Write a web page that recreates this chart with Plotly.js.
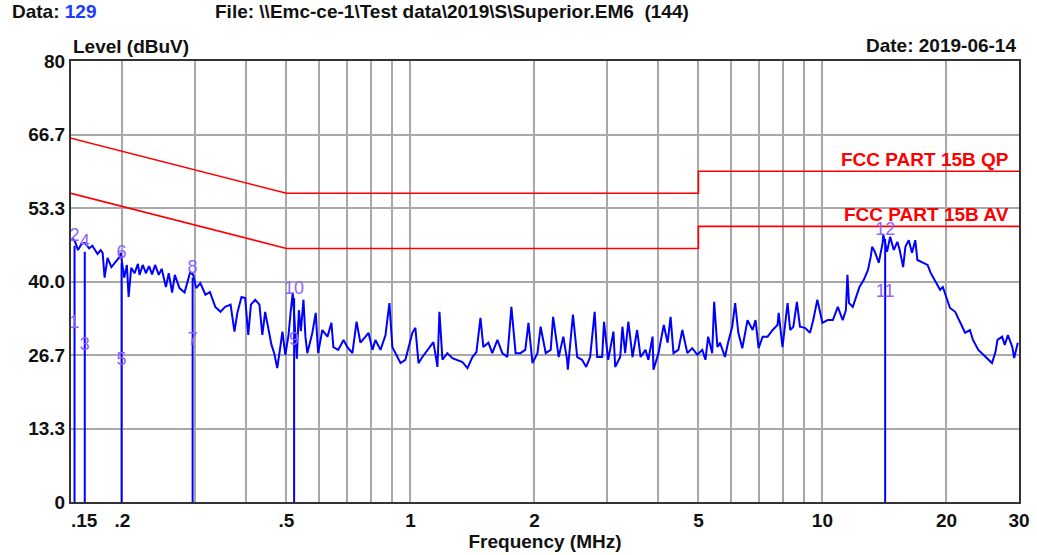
<!DOCTYPE html>
<html>
<head>
<meta charset="utf-8">
<script src="https://cdn.plot.ly/plotly-3.0.1.min.js"></script>
<style>
  html, body { margin: 0; padding: 0; background: #ffffff; }
  #chart { width: 1037px; height: 555px; }
</style>
</head>
<body>
<div id="chart"></div>
<script>
// Measured spectrum (MHz, dBuV)
var specFreq = [
  0.151, 0.1535, 0.156, 0.159, 0.162, 0.166, 0.169, 0.174, 0.177, 0.179,
  0.181, 0.184, 0.188, 0.192, 0.197, 0.198, 0.2, 0.202, 0.205, 0.207,
  0.21, 0.214, 0.218, 0.22, 0.224, 0.228, 0.232, 0.236, 0.24, 0.245,
  0.249, 0.255, 0.259, 0.264, 0.268, 0.275, 0.283, 0.292, 0.297, 0.302,
  0.309, 0.318, 0.326, 0.336, 0.346, 0.355, 0.366, 0.374, 0.38, 0.389,
  0.397, 0.404, 0.41, 0.42, 0.43, 0.437, 0.444, 0.451, 0.46, 0.467,
  0.475, 0.483, 0.489, 0.497, 0.506, 0.512, 0.518, 0.524, 0.53, 0.536,
  0.542, 0.55, 0.556, 0.562, 0.578, 0.589, 0.597, 0.611, 0.629, 0.643,
  0.65, 0.668, 0.688, 0.703, 0.723, 0.74, 0.756, 0.778, 0.791, 0.809,
  0.822, 0.846, 0.87, 0.889, 0.904, 0.93, 0.946, 0.972, 0.989, 1.011,
  1.028, 1.046, 1.069, 1.106, 1.137, 1.163, 1.176, 1.196, 1.229, 1.264,
  1.3, 1.337, 1.375, 1.414, 1.446, 1.479, 1.503, 1.546, 1.58, 1.626,
  1.671, 1.719, 1.758, 1.8, 1.849, 1.9, 1.934, 1.978, 2.034, 2.07,
  2.13, 2.19, 2.22, 2.29, 2.35, 2.4, 2.41, 2.48, 2.54, 2.61,
  2.67, 2.73, 2.8, 2.84, 2.92, 2.95, 3.02, 3.11, 3.14, 3.23,
  3.27, 3.32, 3.38, 3.46, 3.55, 3.62, 3.72, 3.78, 3.87, 3.89,
  4.0, 4.12, 4.21, 4.28, 4.35, 4.47, 4.57, 4.7, 4.83, 4.97,
  5.11, 5.2, 5.28, 5.4, 5.46, 5.56, 5.64, 5.8, 5.9, 6.04,
  6.14, 6.25, 6.39, 6.58, 6.77, 6.88, 7.0, 7.16, 7.36, 7.57,
  7.78, 7.83, 8.0, 8.23, 8.35, 8.5, 8.67, 8.82, 9.07, 9.33,
  9.5, 9.72, 10.0, 10.3, 10.6, 10.9, 11.2, 11.4, 11.5, 11.6,
  11.85, 12.2, 12.3, 12.6, 12.9, 13.1, 13.2, 13.4, 13.7, 14.0,
  14.05, 14.35, 14.6, 14.9, 15.2, 15.4, 15.7, 15.9, 16.2, 16.5,
  16.8, 17.0, 17.5, 18.0, 18.3, 18.8, 19.3, 19.6, 20.1, 20.4,
  21.0, 21.6, 22.2, 22.8, 23.2, 23.9, 24.6, 25.3, 25.8, 26.3,
  26.6, 27.3, 27.7, 28.2, 28.9, 29.2, 29.8
];
var specLevel = [
  47.9, 47.2, 45.7, 46.8, 47.0, 46.0, 46.5, 45.0, 45.7, 45.2,
  40.7, 44.3, 42.6, 43.5, 44.5, 45.2, 43.0, 40.7, 43.0, 37.2,
  42.5, 41.5, 43.2, 41.2, 43.0, 41.5, 42.8, 41.3, 43.0, 41.2,
  42.3, 39.0, 41.5, 38.0, 41.2, 38.8, 38.0, 41.7, 41.2, 38.8,
  39.7, 37.6, 38.1, 35.4, 34.5, 35.4, 35.8, 30.9, 34.3, 37.2,
  37.0, 30.3, 35.8, 36.7, 35.8, 30.3, 34.5, 32.1, 28.5, 27.0,
  24.3, 28.0, 30.9, 26.7, 30.3, 34.5, 38.0, 32.0, 26.0, 34.8,
  31.0, 36.7, 30.0, 27.0, 30.7, 34.3, 27.0, 31.2, 30.0, 32.5,
  28.1, 27.6, 29.4, 28.1, 27.0, 32.7, 28.9, 30.0, 30.7, 27.6,
  29.4, 27.6, 30.3, 36.1, 28.1, 26.3, 25.2, 25.8, 28.1, 30.7,
  31.6, 25.2, 26.3, 27.9, 29.0, 24.5, 34.5, 25.8, 27.0, 26.1,
  25.8, 25.4, 24.3, 26.3, 27.2, 33.4, 28.1, 28.9, 27.0, 29.4,
  27.0, 26.3, 35.4, 27.0, 27.0, 27.6, 32.5, 25.2, 27.0, 31.8,
  27.0, 27.6, 33.6, 26.3, 30.0, 25.8, 24.0, 34.0, 26.3, 25.8,
  24.5, 26.3, 34.5, 26.3, 26.3, 32.7, 25.8, 30.9, 24.5, 26.3,
  31.8, 27.0, 32.7, 26.3, 31.2, 26.3, 27.6, 25.8, 30.0, 24.0,
  27.0, 32.1, 28.9, 33.6, 27.0, 27.6, 31.2, 27.0, 27.9, 26.7,
  27.6, 25.8, 30.0, 27.0, 36.3, 28.1, 28.9, 26.3, 28.9, 31.8,
  36.1, 30.7, 27.9, 33.0, 31.2, 33.0, 27.9, 30.0, 30.0, 31.2,
  32.1, 34.3, 28.1, 36.1, 31.2, 31.8, 36.3, 31.8, 31.6, 30.7,
  33.0, 36.7, 32.5, 33.0, 33.0, 35.4, 33.0, 34.8, 41.2, 36.1,
  35.4, 38.5, 39.0, 40.3, 42.1, 44.5, 46.3, 45.4, 43.4, 47.0,
  48.5, 45.4, 48.1, 45.7, 47.2, 45.7, 42.6, 46.3, 47.5, 45.2,
  47.5, 43.9, 43.4, 43.0, 41.6, 40.0, 38.5, 39.0, 36.7, 35.2,
  34.5, 32.5, 30.7, 31.2, 29.4, 27.6, 26.7, 25.8, 25.2, 27.2,
  29.4, 30.0, 28.5, 30.3, 28.1, 26.1, 28.9
];

// FCC Part 15B limits
var limitFreq = [0.15, 0.5, 5, 5, 30];
var qpLimit  = [66, 56, 56, 60, 60];
var avLimit  = [56, 46, 46, 50, 50];

// Markers (odd = AV reading, even = QP reading)
var markerLabel = ["1","2","3","4","5","6","7","8","9","10","11","12"];
var markerFreq  = [0.153,0.153,0.162,0.162,0.199,0.199,0.296,0.296,0.522,0.522,14.2,14.2];
var markerLevel = [30.7,46.5,26.7,45.4,24.0,43.4,27.6,40.7,27.6,37.0,36.3,47.7];

// Axis ticks
var xTickVals = [0.15,0.2,0.3,0.4,0.5,0.6,0.7,0.8,0.9,1,2,3,4,5,6,7,8,9,10,20,30];
var xTickText = ["\u00a0\u00a0\u00a0\u00a0\u00a0.15",".2","","",".5","","","","","1","2","","","5","","","","","10","20","30"];
var yTickVals = [0, 13.333, 26.667, 40, 53.333, 66.667, 80];
var yTickText = ["0","13.3","26.7","40.0","53.3","66.7","80"];

// marker stems from 0 to QP reading
var stemX = [], stemY = [];
for (var i = 1; i < markerFreq.length; i += 2) {
  stemX.push(markerFreq[i], markerFreq[i], null);
  stemY.push(0, markerLevel[i], null);
}

var FONT = "Liberation Sans, Arial, sans-serif";

var traces = [
  { x: limitFreq, y: qpLimit, mode: "lines", line: {color: "#ff0000", width: 1.6}, hoverinfo: "skip" },
  { x: limitFreq, y: avLimit, mode: "lines", line: {color: "#ff0000", width: 1.6}, hoverinfo: "skip" },
  { x: stemX, y: stemY, mode: "lines", line: {color: "#0000ff", width: 2}, hoverinfo: "skip" },
  { x: specFreq, y: specLevel, mode: "lines", line: {color: "#0000ff", width: 2}, hoverinfo: "skip" },
  { x: markerFreq, y: markerLevel, mode: "text", text: markerLabel, textposition: "top center",
    textfont: {family: FONT, size: 18, color: "#8f63ff"}, cliponaxis: false, hoverinfo: "skip" }
];

function px(x) { return (x - 71) / 948; }
function py(y) { return (502 - y) / 441; }

var layout = {
  width: 1037, height: 555,
  margin: {l: 71, r: 18, t: 61, b: 53},
  paper_bgcolor: "#ffffff", plot_bgcolor: "#ffffff",
  showlegend: false,
  font: {family: FONT, size: 19, color: "#111111"},
  xaxis: {
    type: "log", range: [Math.log10(0.15), Math.log10(30)],
    tickmode: "array", tickvals: xTickVals, ticktext: xTickText,
    showgrid: true, gridcolor: "#a8a8a8", gridwidth: 2,
    showline: true, linecolor: "#333333", linewidth: 2, mirror: true,
    ticks: "", zeroline: false,
    tickfont: {family: FONT, size: 19, color: "#111111", weight: "bold"},
    title: {text: "<b>Frequency (MHz)</b>", font: {family: FONT, size: 19, color: "#111111"}, standoff: 4}
  },
  yaxis: {
    range: [0, 80],
    tickmode: "array", tickvals: yTickVals, ticktext: yTickText,
    showgrid: true, gridcolor: "#a8a8a8", gridwidth: 2,
    showline: true, linecolor: "#333333", linewidth: 2, mirror: true,
    ticks: "", zeroline: false,
    tickfont: {family: FONT, size: 19, color: "#111111", weight: "bold"}
  },
  annotations: [
    {xref: "paper", yref: "paper", x: px(10), y: py(12), xanchor: "left", yanchor: "middle", showarrow: false,
     text: "<b>Data: <span style='color:#1a3cff'>129</span></b>", font: {family: FONT, size: 19, color: "#111111"}},
    {xref: "paper", yref: "paper", x: px(213), y: py(12), xanchor: "left", yanchor: "middle", showarrow: false,
     text: "<b>File: \\\\Emc-ce-1\\Test data\\2019\\S\\Superior.EM6  (144)</b>", font: {family: FONT, size: 19, color: "#111111"}},
    {xref: "paper", yref: "paper", x: px(71), y: py(47), xanchor: "left", yanchor: "middle", showarrow: false,
     text: "<b>Level (dBuV)</b>", font: {family: FONT, size: 19, color: "#111111"}},
    {xref: "paper", yref: "paper", x: px(1018), y: py(45), xanchor: "right", yanchor: "middle", showarrow: false,
     text: "<b>Date: 2019-06-14</b>", font: {family: FONT, size: 19, color: "#111111"}},
    {xref: "paper", yref: "paper", x: px(1011), y: py(159), xanchor: "right", yanchor: "middle", showarrow: false,
     text: "<b>FCC PART 15B QP</b>", font: {family: FONT, size: 19, color: "#ff0000"}},
    {xref: "paper", yref: "paper", x: px(1011), y: py(214), xanchor: "right", yanchor: "middle", showarrow: false,
     text: "<b>FCC PART 15B AV</b>", font: {family: FONT, size: 19, color: "#ff0000"}}
  ]
};

Plotly.newPlot("chart", traces, layout, {staticPlot: true, displayModeBar: false});
</script>
</body>
</html>
